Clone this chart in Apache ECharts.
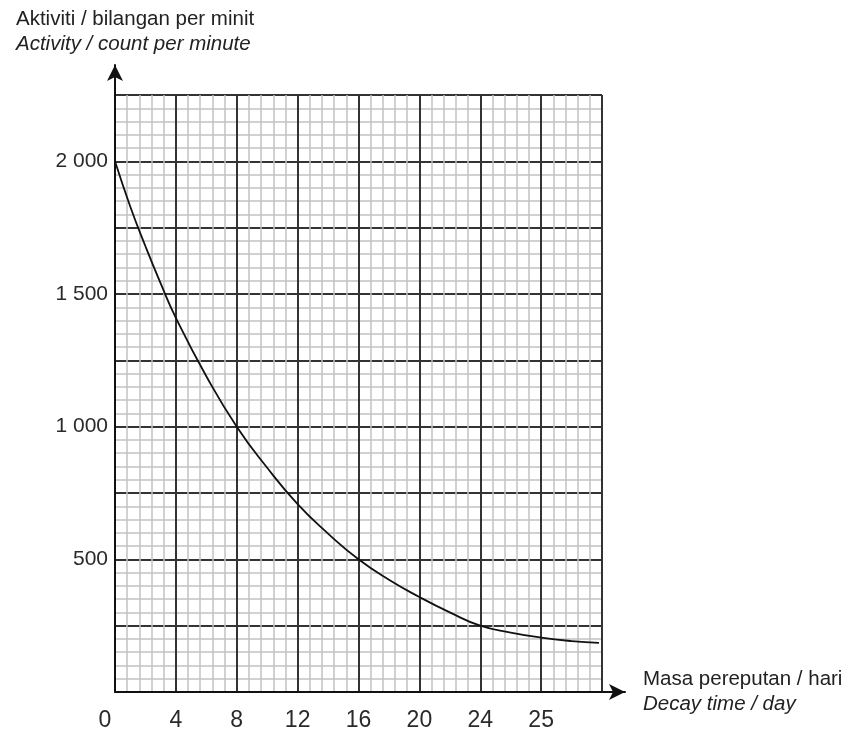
<!DOCTYPE html>
<html>
<head>
<meta charset="utf-8">
<script src="https://cdn.jsdelivr.net/npm/echarts@6/dist/echarts.min.js"></script>
<style>html,body{margin:0;padding:0;background:#fff}#c{width:851px;height:734px}</style>
</head>
<body>
<div id="c"></div>
<script>
// Decay time (days) and activity (counts per minute)
const days =     [0,    1,    2,    3,    4,    6,    8,    10,  12,  14,  16,  18,  20,  22,  24,  26,  28,  30,  31.8];
const activity = [2000, 1830, 1680, 1540, 1410, 1190, 1000, 845, 708, 597, 500, 423, 358, 300, 250, 224, 205, 192, 185];

// Tick labels as printed on the original graph
const xTickValues = [0, 4, 8, 12, 16, 20, 24, 28, 32];
const xTickLabels = ['0', '4', '8', '12', '16', '20', '24', '25', ''];
const yTickValues = [500, 1000, 1500, 2000];
const yTickLabels = ['500', '1 000', '1 500', '2 000'];

const yTitle1 = 'Aktiviti / bilangan per minit';
const yTitle2 = 'Activity / count per minute';
const xTitle1 = 'Masa pereputan / hari';
const xTitle2 = 'Decay time / day';

const FONT = 'Liberation Sans';
const chart = echarts.init(document.getElementById('c'), null, {renderer: 'canvas'});

const minorLine = {show: true, lineStyle: {color: '#c2c2c2', width: 1.5}};
const majorLine = {show: true, lineStyle: {color: '#333', width: 2}};

chart.setOption({
  animation: false,
  backgroundColor: '#fff',
  title: {
    left: 11, top: 2,
    text: yTitle1,
    subtext: yTitle2,
    itemGap: 1,
    textStyle: {fontFamily: FONT, fontSize: 20.5, fontWeight: 'normal', color: '#222', lineHeight: 24},
    subtextStyle: {fontFamily: FONT, fontSize: 20.5, fontStyle: 'italic', color: '#222', lineHeight: 24}
  },
  grid: [
    {left: 115, right: 249, top: 95, bottom: 42, containLabel: false},
    {left: 115, right: 226, top: 65, bottom: 42, containLabel: false}
  ],
  xAxis: [
    {
      type: 'value', gridIndex: 0, min: 0, max: 32, interval: 4,
      axisLine: {show: false},
      axisTick: {show: false},
      minorTick: {show: false, splitNumber: 5},
      splitLine: majorLine,
      minorSplitLine: minorLine,
      axisLabel: {
        margin: 17, fontFamily: FONT, fontSize: 23, color: '#2a2a2a',
        formatter: function (v) {
          const i = xTickValues.indexOf(v);
          if (i < 0) return '';
          if (i === 0) return '{z|' + xTickLabels[i] + '}';
          return xTickLabels[i];
        },
        rich: {z: {fontFamily: FONT, fontSize: 23, color: '#2a2a2a', padding: [0, 20, 0, 0]}}
      }
    },
    {
      type: 'value', gridIndex: 1, min: 0, max: 1,
      axisLine: {show: true, lineStyle: {color: '#111', width: 2},
        symbol: ['none', 'arrow'], symbolSize: [12, 16]},
      axisTick: {show: false}, axisLabel: {show: false}, splitLine: {show: false},
      name: '{a|' + xTitle1 + '}\n{b|' + xTitle2 + '}',
      nameLocation: 'end', nameGap: 18,
      nameTextStyle: {
        align: 'left', verticalAlign: 'middle', lineHeight: 25,
        rich: {
          a: {fontFamily: FONT, fontSize: 20.5, color: '#222', lineHeight: 25},
          b: {fontFamily: FONT, fontSize: 20.5, fontStyle: 'italic', color: '#222', lineHeight: 25}
        }
      }
    }
  ],
  yAxis: [
    {
      type: 'value', gridIndex: 0, min: 0, max: 2250, interval: 250,
      axisLine: {show: false},
      axisTick: {show: false},
      minorTick: {show: false, splitNumber: 5},
      splitLine: majorLine,
      minorSplitLine: minorLine,
      axisLabel: {
        margin: 7, fontFamily: FONT, fontSize: 21, color: '#2a2a2a',
        formatter: function (v) {
          const i = yTickValues.indexOf(v);
          return i < 0 ? '' : yTickLabels[i];
        }
      }
    },
    {
      type: 'value', gridIndex: 1, min: 0, max: 1,
      axisLine: {show: true, lineStyle: {color: '#111', width: 2},
        symbol: ['none', 'arrow'], symbolSize: [12, 16]},
      axisTick: {show: false}, axisLabel: {show: false}, splitLine: {show: false}
    }
  ],
  series: [{
    type: 'line',
    xAxisIndex: 0, yAxisIndex: 0,
    data: days.map((d, i) => [d, activity[i]]),
    smooth: 0.5,
    showSymbol: false,
    lineStyle: {color: '#111', width: 1.8},
    z: 5
  }]
});
</script>
</body>
</html>
